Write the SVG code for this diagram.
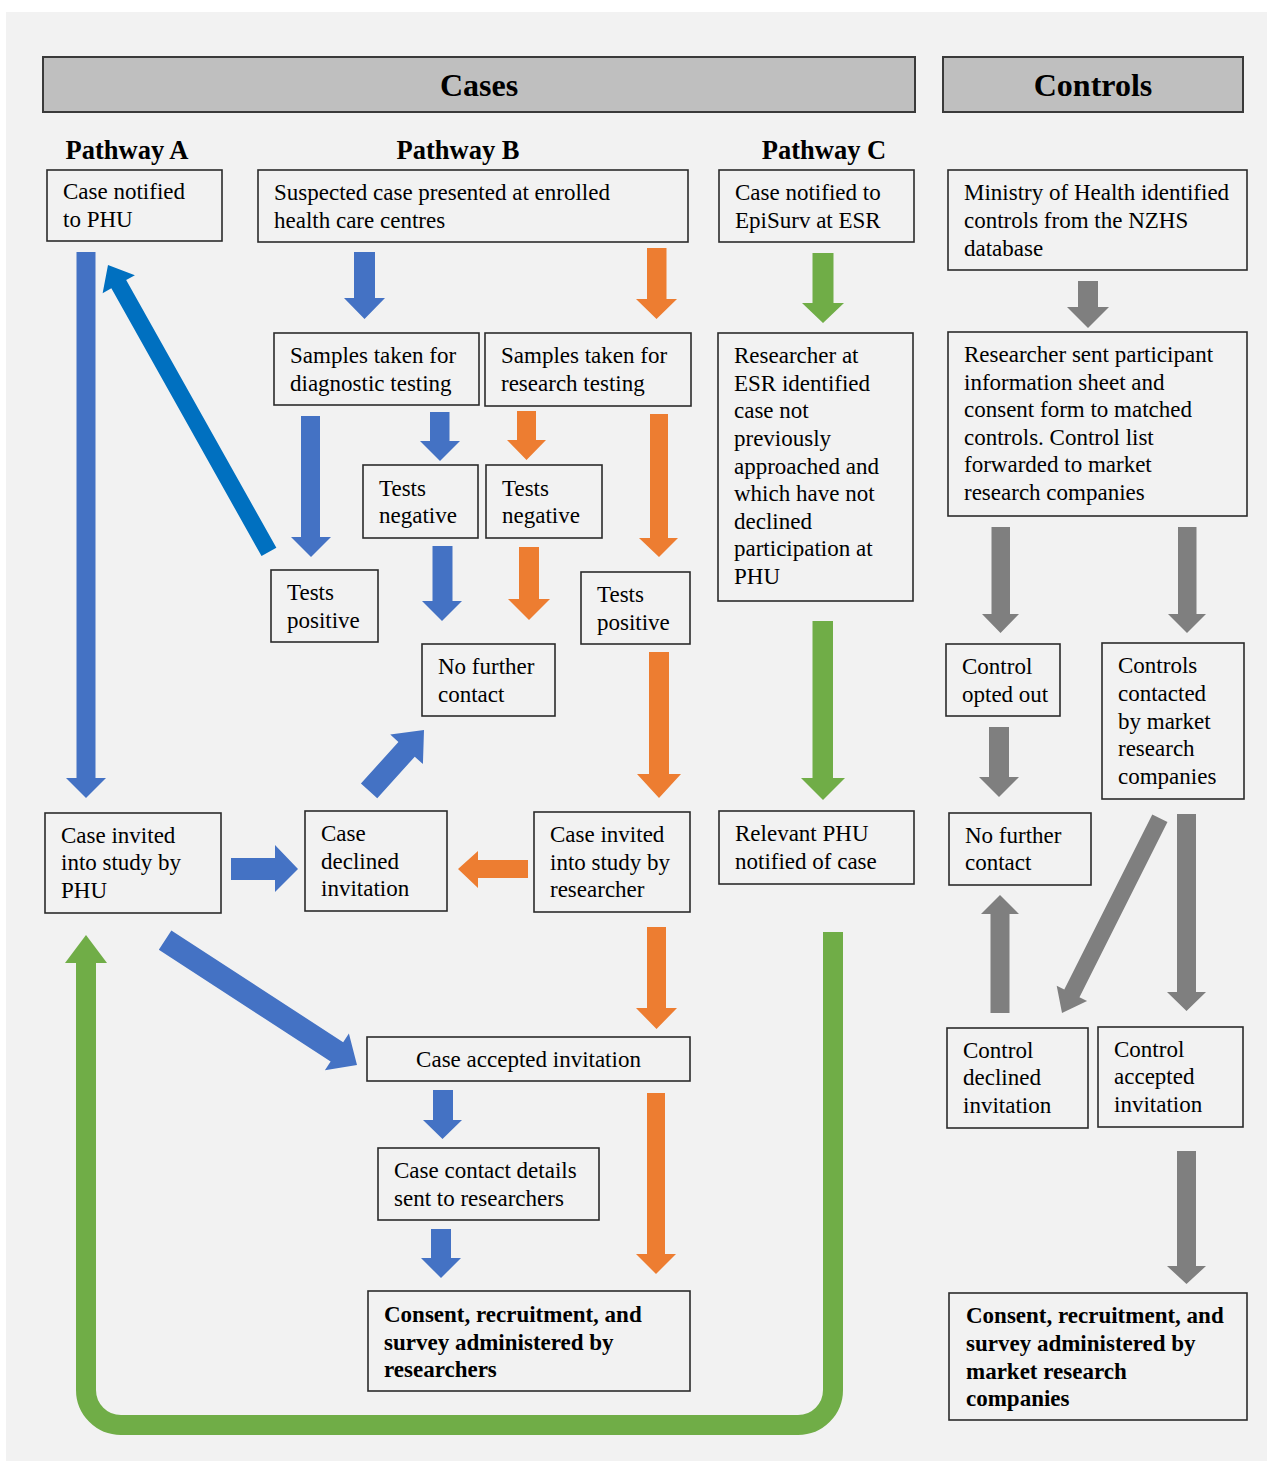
<svg xmlns="http://www.w3.org/2000/svg" width="1274" height="1461" viewBox="0 0 1274 1461">
<style>
.bx{fill:none;stroke:#2b2b2b;stroke-width:1.6}
.hd{fill:#bfbfbf;stroke:#3a3a3a;stroke-width:2}
.t{font-family:"Liberation Serif","Times New Roman",serif;font-size:23px;fill:#000}
.tb{font-family:"Liberation Serif","Times New Roman",serif;font-size:23px;font-weight:bold;fill:#000}
.h1{font-family:"Liberation Serif","Times New Roman",serif;font-size:32px;font-weight:bold;fill:#000;text-anchor:middle}
.h2{font-family:"Liberation Serif","Times New Roman",serif;font-size:26.5px;font-weight:bold;fill:#000;text-anchor:middle}
.bl{fill:#4472c4}.db{fill:#0070c0}.or{fill:#ed7d31}.gr{fill:#70ad47}.gy{fill:#7f7f7f}
</style>
<rect x="0" y="0" width="1274" height="1461" fill="#ffffff"/>
<rect x="6" y="12" width="1261" height="1449" fill="#f2f2f2"/>

<g id="headers">
<g id="cases-header"><rect class="hd" x="43" y="57" width="872" height="55"/><text class="h1" x="479" y="96">Cases</text></g>
<g id="controls-header"><rect class="hd" x="943" y="57" width="300" height="55"/><text class="h1" x="1093" y="96">Controls</text></g>
<text class="h2" x="127" y="159">Pathway A</text>
<text class="h2" x="458" y="159">Pathway B</text>
<text class="h2" x="824" y="159">Pathway C</text>
</g>

<g id="connectors">
<!-- Blue -->
<polygon class="bl" points="76.5,252 95.5,252 95.5,778 106,778 86,798 66,778 76.5,778"/>
<polygon class="db" transform="translate(108,265) rotate(-119.29)" points="-329,-8.5 -22,-8.5 -22,-18.5 0,0 -22,18.5 -22,8.5 -329,8.5"/>
<polygon class="bl" points="354,252 375,252 375,298 385,298 364.5,319 344,298 354,298"/>
<polygon class="bl" points="301,416 320,416 320,537 331,537 311,557 291,537 301,537"/>
<polygon class="bl" points="430,412 449.5,412 449.5,441 460,441 440,461 420,441 430,441"/>
<polygon class="bl" points="432.5,546 452.5,546 452.5,601 462,601 442,621 422,601 432.5,601"/>
<polygon class="bl" transform="translate(424,730) rotate(-47.96)" points="-82,-11 -26,-11 -26,-22 0,0 -26,22 -26,11 -82,11"/>
<polygon class="bl" points="231,858 275,858 275,845 298,869 275,892 275,880 231,880"/>
<polygon class="bl" transform="translate(357,1065) rotate(33.07)" points="-229,-11.5 -24,-11.5 -24,-22 0,0 -24,22 -24,11.5 -229,11.5"/>
<polygon class="bl" points="433,1090 453,1090 453,1120 462,1120 442.5,1139 423,1120 433,1120"/>
<polygon class="bl" points="431,1229 451,1229 451,1258 461,1258 441,1278 421,1258 431,1258"/>
<!-- Orange -->
<polygon class="or" points="647,248 666.5,248 666.5,299 677,299 656.5,319 636,299 647,299"/>
<polygon class="or" points="517,411 536,411 536,440 546,440 526.5,460 507,440 517,440"/>
<polygon class="or" points="650,414 668,414 668,538 678,538 659,557 639,538 650,538"/>
<polygon class="or" points="519,547 539,547 539,599 550,599 529,620 508,599 519,599"/>
<polygon class="or" points="649,652 669,652 669,774 681,774 659,798 637,774 649,774"/>
<polygon class="or" points="528,860 478,860 478,851 458,869 478,888 478,878 528,878"/>
<polygon class="or" points="647,927 666,927 666,1008 677,1008 656.5,1029 636,1008 647,1008"/>
<polygon class="or" points="647,1093 665,1093 665,1254 676,1254 656,1274 636,1254 647,1254"/>
<!-- Green -->
<polygon class="gr" points="812.5,253 833.5,253 833.5,303 844,303 823,323 802,303 812.5,303"/>
<polygon class="gr" points="812.5,621 833,621 833,778 845,778 823,800 801,778 812.5,778"/>
<path d="M833 932 V1390 A35 35 0 0 1 798 1425 H121 A35 35 0 0 1 86 1390 V960" fill="none" stroke="#70ad47" stroke-width="20"/>
<polygon class="gr" points="65,963 107,963 86,935"/>
<!-- Gray -->
<polygon class="gy" points="1078,281 1098,281 1098,307 1109,307 1088,328 1067,307 1078,307"/>
<polygon class="gy" points="991.5,527 1010,527 1010,614 1019,614 1000.5,633 982,614 991.5,614"/>
<polygon class="gy" points="1178,527 1196.5,527 1196.5,614 1206,614 1187,633 1168,614 1178,614"/>
<polygon class="gy" points="989,727 1009,727 1009,777 1019,777 999,797 979,777 989,777"/>
<polygon class="gy" points="990.5,1013 1009.5,1013 1009.5,914 1019,914 1000,895 981,914 990.5,914"/>
<polygon class="gy" transform="translate(1062,1013) rotate(116.68)" points="-218,-8.5 -22,-8.5 -22,-17 0,0 -22,17 -22,8.5 -218,8.5"/>
<polygon class="gy" points="1177,814 1196,814 1196,992 1206,992 1186.5,1011 1167,992 1177,992"/>
<polygon class="gy" points="1177,1151 1196,1151 1196,1266 1206,1266 1186.5,1284 1167,1266 1177,1266"/>
</g>

<g id="n-case-notified-phu"><rect class="bx" x="47" y="170" width="175" height="71"/>
<text class="t" x="63" y="199">Case notified</text><text class="t" x="63" y="227">to PHU</text></g>

<g id="n-suspected"><rect class="bx" x="258" y="170" width="430" height="72"/>
<text class="t" x="274" y="200">Suspected case presented at enrolled</text><text class="t" x="274" y="228">health care centres</text></g>

<g id="n-episurv"><rect class="bx" x="719" y="170" width="195" height="72"/>
<text class="t" x="735" y="200">Case notified to</text><text class="t" x="735" y="228">EpiSurv at ESR</text></g>

<g id="n-ministry"><rect class="bx" x="948" y="170" width="299" height="100"/>
<text class="t" x="964" y="200">Ministry of Health identified</text><text class="t" x="964" y="228">controls from the NZHS</text><text class="t" x="964" y="256">database</text></g>

<g id="n-samples-diag"><rect class="bx" x="274" y="333" width="205" height="72"/>
<text class="t" x="290" y="363">Samples taken for</text><text class="t" x="290" y="391">diagnostic testing</text></g>

<g id="n-samples-res"><rect class="bx" x="485" y="333" width="206" height="73"/>
<text class="t" x="501" y="363">Samples taken for</text><text class="t" x="501" y="391">research testing</text></g>

<g id="n-researcher-esr"><rect class="bx" x="718" y="333" width="195" height="268"/>
<text class="t" x="734" y="363">Researcher at</text><text class="t" x="734" y="391">ESR identified</text><text class="t" x="734" y="418">case not</text><text class="t" x="734" y="446">previously</text><text class="t" x="734" y="474">approached and</text><text class="t" x="734" y="501">which have not</text><text class="t" x="734" y="529">declined</text><text class="t" x="734" y="556">participation at</text><text class="t" x="734" y="584">PHU</text></g>

<g id="n-researcher-sent"><rect class="bx" x="948" y="332" width="299" height="184"/>
<text class="t" x="964" y="362">Researcher sent participant</text><text class="t" x="964" y="390">information sheet and</text><text class="t" x="964" y="417">consent form to matched</text><text class="t" x="964" y="445">controls. Control list</text><text class="t" x="964" y="472">forwarded to market</text><text class="t" x="964" y="500">research companies</text></g>

<g id="n-neg-blue"><rect class="bx" x="363" y="465" width="115" height="73"/>
<text class="t" x="379" y="496">Tests</text><text class="t" x="379" y="523">negative</text></g>

<g id="n-neg-orange"><rect class="bx" x="486" y="465" width="116" height="73"/>
<text class="t" x="502" y="496">Tests</text><text class="t" x="502" y="523">negative</text></g>

<g id="n-pos-left"><rect class="bx" x="271" y="570" width="107" height="72"/>
<text class="t" x="287" y="600">Tests</text><text class="t" x="287" y="628">positive</text></g>

<g id="n-pos-right"><rect class="bx" x="581" y="572" width="109" height="72"/>
<text class="t" x="597" y="602">Tests</text><text class="t" x="597" y="630">positive</text></g>

<g id="n-nofurther-case"><rect class="bx" x="422" y="644" width="133" height="72"/>
<text class="t" x="438" y="674">No further</text><text class="t" x="438" y="702">contact</text></g>

<g id="n-opted-out"><rect class="bx" x="946" y="644" width="114" height="72"/>
<text class="t" x="962" y="674">Control</text><text class="t" x="962" y="702">opted out</text></g>

<g id="n-contacted"><rect class="bx" x="1102" y="643" width="142" height="156"/>
<text class="t" x="1118" y="673">Controls</text><text class="t" x="1118" y="701">contacted</text><text class="t" x="1118" y="729">by market</text><text class="t" x="1118" y="756">research</text><text class="t" x="1118" y="784">companies</text></g>

<g id="n-invited-phu"><rect class="bx" x="45" y="813" width="176" height="100"/>
<text class="t" x="61" y="843">Case invited</text><text class="t" x="61" y="870">into study by</text><text class="t" x="61" y="898">PHU</text></g>

<g id="n-declined"><rect class="bx" x="305" y="811" width="142" height="100"/>
<text class="t" x="321" y="841">Case</text><text class="t" x="321" y="869">declined</text><text class="t" x="321" y="896">invitation</text></g>

<g id="n-invited-res"><rect class="bx" x="534" y="812" width="156" height="100"/>
<text class="t" x="550" y="842">Case invited</text><text class="t" x="550" y="870">into study by</text><text class="t" x="550" y="897">researcher</text></g>

<g id="n-relevant-phu"><rect class="bx" x="719" y="811" width="195" height="73"/>
<text class="t" x="735" y="841">Relevant PHU</text><text class="t" x="735" y="869">notified of case</text></g>

<g id="n-nofurther-ctrl"><rect class="bx" x="949" y="813" width="142" height="72"/>
<text class="t" x="965" y="843">No further</text><text class="t" x="965" y="870">contact</text></g>

<g id="n-accepted"><rect class="bx" x="367" y="1037" width="323" height="44"/>
<text class="t" x="528.5" y="1067" text-anchor="middle">Case accepted invitation</text></g>

<g id="n-ctrl-declined"><rect class="bx" x="947" y="1028" width="141" height="100"/>
<text class="t" x="963" y="1058">Control</text><text class="t" x="963" y="1085">declined</text><text class="t" x="963" y="1113">invitation</text></g>

<g id="n-ctrl-accepted"><rect class="bx" x="1098" y="1027" width="145" height="100"/>
<text class="t" x="1114" y="1057">Control</text><text class="t" x="1114" y="1084">accepted</text><text class="t" x="1114" y="1112">invitation</text></g>

<g id="n-contact-details"><rect class="bx" x="378" y="1148" width="221" height="72"/>
<text class="t" x="394" y="1178">Case contact details</text><text class="t" x="394" y="1206">sent to researchers</text></g>

<g id="n-consent-res"><rect class="bx" x="368" y="1291" width="322" height="100"/>
<text class="tb" x="384" y="1322">Consent, recruitment, and</text><text class="tb" x="384" y="1350">survey administered by</text><text class="tb" x="384" y="1377">researchers</text></g>

<g id="n-consent-mkt"><rect class="bx" x="949" y="1293" width="298" height="127"/>
<text class="tb" x="966" y="1323">Consent, recruitment, and</text><text class="tb" x="966" y="1351">survey administered by</text><text class="tb" x="966" y="1379">market research</text><text class="tb" x="966" y="1406">companies</text></g>
</svg>
